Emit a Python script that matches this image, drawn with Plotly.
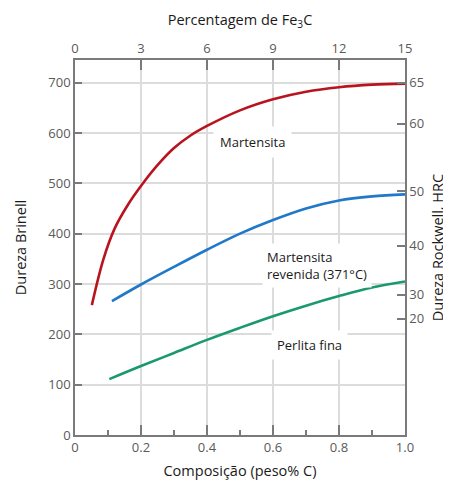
import plotly.graph_objects as go

# Data
carbon_martensite = [0.051, 0.086, 0.12, 0.16, 0.206, 0.25, 0.3, 0.35, 0.4, 0.5, 0.6, 0.7, 0.8, 0.9, 1.0]
hb_martensite = [258, 349, 410, 457, 500, 536, 570, 595, 614, 645, 667, 682, 691, 696, 698]

carbon_tempered = [0.112, 0.2, 0.3, 0.4, 0.5, 0.6, 0.7, 0.8, 0.9, 1.0]
hb_tempered = [266, 299, 334, 368, 400, 427, 450, 466, 474, 478]

carbon_pearlite = [0.104, 0.2, 0.3, 0.4, 0.5, 0.6, 0.7, 0.8, 0.9, 1.0]
hb_pearlite = [111, 137, 163, 189, 213, 236, 257, 276, 293, 305]

bottom_ticks = [0, 0.2, 0.4, 0.6, 0.8, 1.0]
bottom_labels = ["0", "0.2", "0.4", "0.6", "0.8", "1.0"]
top_ticks = [0, 3, 6, 9, 12, 15]
brinell_ticks = [0, 100, 200, 300, 400, 500, 600, 700]
hrc_labels = ["65", "60", "50", "40", "30", "20"]
hrc_brinell = [700, 618, 484, 376, 279, 231]

TICK_FONT = dict(family="Open Sans", size=13, color="#5a5a5a")
TITLE_FONT = dict(family="Open Sans", size=14.5, color="#1a1a1a")
AX = "#7a7a7a"
GRID = "#dcdcdc"

fig = go.Figure()
fig.add_trace(go.Scatter(x=carbon_martensite, y=hb_martensite, mode="lines",
                         line=dict(color="#b8141f", width=2.6, shape="spline", smoothing=1.0),
                         showlegend=False, hoverinfo="skip"))
fig.add_trace(go.Scatter(x=carbon_tempered, y=hb_tempered, mode="lines",
                         line=dict(color="#1f78c8", width=2.6, shape="spline", smoothing=1.0),
                         showlegend=False, hoverinfo="skip"))
fig.add_trace(go.Scatter(x=carbon_pearlite, y=hb_pearlite, mode="lines",
                         line=dict(color="#1a9a6c", width=2.6, shape="spline", smoothing=1.0),
                         showlegend=False, hoverinfo="skip"))
# invisible traces to activate the secondary axes
fig.add_trace(go.Scatter(x=[0, 15], y=[0, 0], xaxis="x2", yaxis="y", mode="markers",
                         marker=dict(opacity=0), showlegend=False, hoverinfo="skip"))
fig.add_trace(go.Scatter(x=[0, 1], y=[0, 0], xaxis="x", yaxis="y2", mode="markers",
                         marker=dict(opacity=0), showlegend=False, hoverinfo="skip"))

yr = [0, 745]
# page body has an 8px margin; figure sized to fit the 451x484 window
fig.update_layout(
    width=443, height=476,
    margin=dict(l=67, r=46, t=52, b=49, autoexpand=False),
    plot_bgcolor="white", paper_bgcolor="white",
    xaxis=dict(range=[0, 1], tickvals=bottom_ticks, ticktext=bottom_labels, automargin=False,
               ticks="inside", ticklen=10, tickwidth=1.5, tickcolor=AX,
               minor=dict(dtick=0.1, tick0=0, ticks="inside", ticklen=5, tickwidth=1.5, tickcolor=AX, showgrid=False),
               showgrid=True, gridcolor=GRID, gridwidth=1.5,
               showline=True, linecolor=AX, linewidth=1.5, zeroline=False,
               tickfont=TICK_FONT,
               title=dict(text="Composição (peso% C)", font=TITLE_FONT, standoff=11)),
    xaxis2=dict(range=[0, 15], overlaying="x", side="top", tickvals=top_ticks, automargin=False,
                ticks="inside", ticklen=10, tickwidth=1.5, tickcolor=AX,
                showgrid=False, showline=True, linecolor=AX, linewidth=1.5, zeroline=False,
                tickfont=TICK_FONT,
                title=dict(text="Percentagem de Fe<sub>3</sub>C", font=TITLE_FONT, standoff=10)),
    yaxis=dict(range=yr, tickvals=brinell_ticks, automargin=False,
               ticks="inside", ticklen=7, tickwidth=1.5, tickcolor=AX,
               showgrid=True, gridcolor=GRID, gridwidth=1.5,
               showline=True, linecolor=AX, linewidth=1.5, zeroline=False,
               tickfont=TICK_FONT,
               title=dict(text="Dureza Brinell", font=TITLE_FONT, standoff=18)),
    yaxis2=dict(range=yr, overlaying="y", side="right", tickvals=hrc_brinell, ticktext=hrc_labels,
                automargin=False,
                ticks="inside", ticklen=8, tickwidth=1.5, tickcolor=AX,
                showgrid=False, showline=True, linecolor=AX, linewidth=1.5, zeroline=False,
                tickfont=TICK_FONT,
                title=dict(text="Dureza Rockwell, HRC", font=TITLE_FONT, standoff=10)),
    font=dict(family="Open Sans"),
)

ann_font = dict(family="Open Sans", size=13, color="#1a1a1a")
fig.add_annotation(x=0.538, y=582, xref="x", yref="y", text="Martensita", showarrow=False,
                   font=ann_font, bgcolor="white", borderpad=6)
fig.add_annotation(x=0.568, y=337, xref="x", yref="y", text="Martensita<br>revenida (371°C)",
                   showarrow=False, xanchor="left", align="left",
                   font=ann_font, bgcolor="white", borderpad=4)
fig.add_annotation(x=0.71, y=179, xref="x", yref="y", text="Perlita fina", showarrow=False,
                   font=ann_font, bgcolor="white", borderpad=5)

fig.write_html("out.html")
